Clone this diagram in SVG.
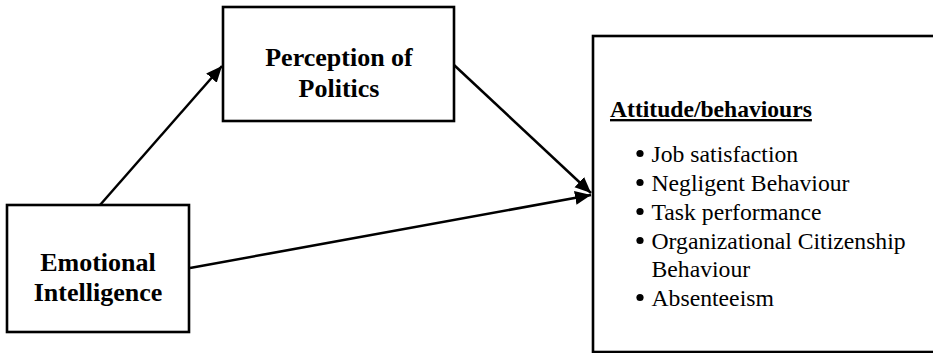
<svg xmlns="http://www.w3.org/2000/svg" width="933" height="353" viewBox="0 0 933 353">
<style>
.box{fill:#fff;stroke:#000;stroke-width:2.6}
.lbl{font-family:"Liberation Serif","Times New Roman",serif;font-weight:bold;font-size:26px;fill:#000;text-anchor:middle}
.ttl{font-family:"Liberation Serif","Times New Roman",serif;font-weight:bold;font-size:23.6px;fill:#000;text-decoration:underline}
.itm{font-family:"Liberation Serif","Times New Roman",serif;font-size:23.7px;fill:#000}
.edge{stroke:#000;stroke-width:2.5;fill:none;marker-end:url(#ah)}
</style>
<defs>
<marker id="ah" markerUnits="userSpaceOnUse" markerWidth="18" markerHeight="16" refX="16" refY="7" orient="auto">
<path d="M0,0 L16,7 L0,14 Z" fill="#000"/>
</marker>
</defs>
<rect width="933" height="353" fill="#fff"/>
<g id="connectors">
<line class="edge" x1="100" y1="205" x2="222" y2="66"/>
<line class="edge" x1="454" y1="65" x2="591" y2="193"/>
<line class="edge" x1="190" y1="268" x2="591" y2="195"/>
</g>
<g id="perception">
<rect class="box" x="223" y="7" width="231" height="114"/>
<text class="lbl" x="339" y="66">Perception of</text>
<text class="lbl" x="339" y="97">Politics</text>
</g>
<g id="emotional">
<rect class="box" x="7" y="205" width="182" height="127"/>
<text class="lbl" x="98" y="271">Emotional</text>
<text class="lbl" x="98" y="301">Intelligence</text>
</g>
<g id="attitude">
<rect class="box" x="593" y="36" width="360" height="316"/>
<text class="ttl" x="610" y="117">Attitude/behaviours</text>
<g fill="#000">
<circle cx="640" cy="153.5" r="3.6"/>
<circle cx="640" cy="182.5" r="3.6"/>
<circle cx="640" cy="211.5" r="3.6"/>
<circle cx="640" cy="240.5" r="3.6"/>
<circle cx="640" cy="297.5" r="3.6"/>
</g>
<text class="itm" x="651.5" y="162">Job satisfaction</text>
<text class="itm" x="651.5" y="191">Negligent Behaviour</text>
<text class="itm" x="651.5" y="220">Task performance</text>
<text class="itm" x="651.5" y="249">Organizational Citizenship</text>
<text class="itm" x="651.5" y="277">Behaviour</text>
<text class="itm" x="651.5" y="306">Absenteeism</text>
</g>
</svg>
